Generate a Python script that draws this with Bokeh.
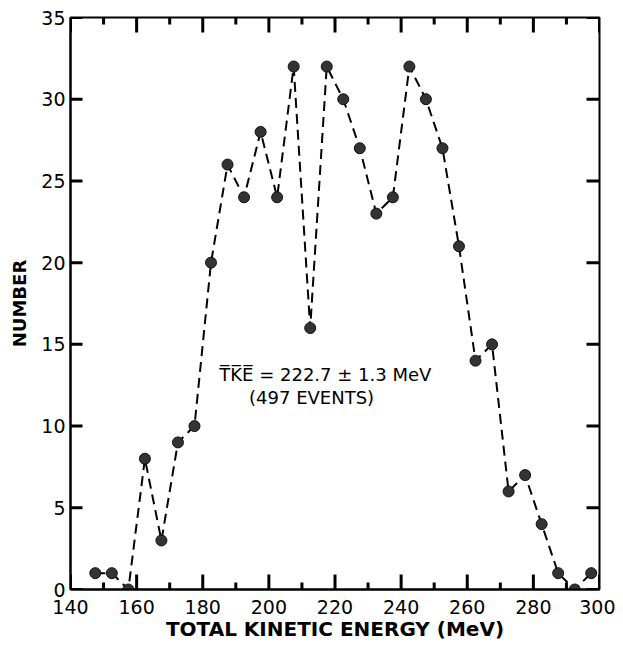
from bokeh.plotting import figure
from bokeh.models import LinearAxis, FixedTicker, Range1d, Label
from bokeh.embed import file_html
from bokeh.resources import INLINE

# Data: total kinetic energy bins (MeV, bin centres) and counts
energy = [147.5, 152.5, 157.5, 162.5, 167.5, 172.5, 177.5, 182.5, 187.5, 192.5,
          197.5, 202.5, 207.5, 212.5, 217.5, 222.5, 227.5, 232.5, 237.5, 242.5,
          247.5, 252.5, 257.5, 262.5, 267.5, 272.5, 277.5, 282.5, 287.5, 292.5, 297.5]
number = [1, 1, 0, 8, 3, 9, 10, 20, 26, 24,
          28, 24, 32, 16, 32, 30, 27, 23, 24, 32,
          30, 27, 21, 14, 15, 6, 7, 4, 1, 0, 1]

x_ticks = [140, 160, 180, 200, 220, 240, 260, 280, 300]
x_minor = [150, 170, 190, 210, 230, 250, 270, 290]
y_ticks = [0, 5, 10, 15, 20, 25, 30, 35]

FONT = "DejaVu Sans"
FW, FH = 529, 572
x_lo, x_hi = x_ticks[0], x_ticks[-1]
y_lo, y_hi = y_ticks[0], y_ticks[-1]
px_x = (x_hi - x_lo) / FW
px_y = (y_hi - y_lo) / FH

p = figure(frame_width=FW, frame_height=FH,
           min_border_left=70, min_border_top=17, min_border_right=16, min_border_bottom=10,
           x_range=Range1d(x_lo, x_hi), y_range=Range1d(y_lo, y_hi),
           output_backend="svg", toolbar_location=None,
           x_axis_location=None, y_axis_location=None)
p.xgrid.visible = False
p.ygrid.visible = False
p.outline_line_color = "black"
p.outline_line_width = 2

def style_axis(ax, ticks):
    ax.ticker = FixedTicker(ticks=ticks, minor_ticks=[])
    ax.axis_line_color = "black"
    ax.axis_line_width = 2
    ax.major_tick_in = 0
    ax.major_tick_out = 0
    ax.minor_tick_in = 0
    ax.minor_tick_out = 0
    ax.major_label_text_font = FONT
    ax.major_label_text_color = "black"
    ax.major_label_text_font_size = "19px"
    ax.axis_label_text_font = FONT
    ax.axis_label_text_font_style = "bold"
    ax.axis_label_text_color = "black"

xb = LinearAxis(axis_label="TOTAL KINETIC ENERGY (MeV)")
style_axis(xb, x_ticks)
xb.major_label_standoff = 10
xb.axis_label_standoff = 0
xb.axis_label_text_font_size = "20px"
p.add_layout(xb, "below")

yl = LinearAxis(axis_label="NUMBER")
style_axis(yl, y_ticks)
yl.major_label_standoff = 5
yl.axis_label_standoff = 8
yl.axis_label_text_font_size = "18px"
p.add_layout(yl, "left")

# inward tick marks on all four sides
tick_xs, tick_ys = [], []
for t in x_ticks:
    tick_xs += [[t, t], [t, t]]
    tick_ys += [[y_lo, y_lo + 15 * px_y], [y_hi, y_hi - 15 * px_y]]
for t in x_minor:
    tick_xs += [[t, t], [t, t]]
    tick_ys += [[y_lo, y_lo + 7 * px_y], [y_hi, y_hi - 7 * px_y]]
for t in y_ticks:
    tick_xs += [[x_lo, x_lo + 12 * px_x], [x_hi, x_hi - 13 * px_x]]
    tick_ys += [[t, t], [t, t]]
p.multi_line(tick_xs, tick_ys, line_color="black", line_width=3)

p.line(energy, number, line_color="black", line_width=2, line_dash="10 6")
p.scatter(energy, number, size=11, fill_color="#333333", line_color="#111111", line_width=1)

p.add_layout(Label(x=185.0, y=12.5, text="T\u0305K\u0305E\u0305 = 222.7 \u00b1 1.3 MeV",
                   text_font=FONT, text_font_size="18px", text_color="black"))
p.add_layout(Label(x=194.0, y=11.1, text="(497 EVENTS)",
                   text_font=FONT, text_font_size="18px", text_color="black"))

open("out.html", "w").write(file_html(p, INLINE))
